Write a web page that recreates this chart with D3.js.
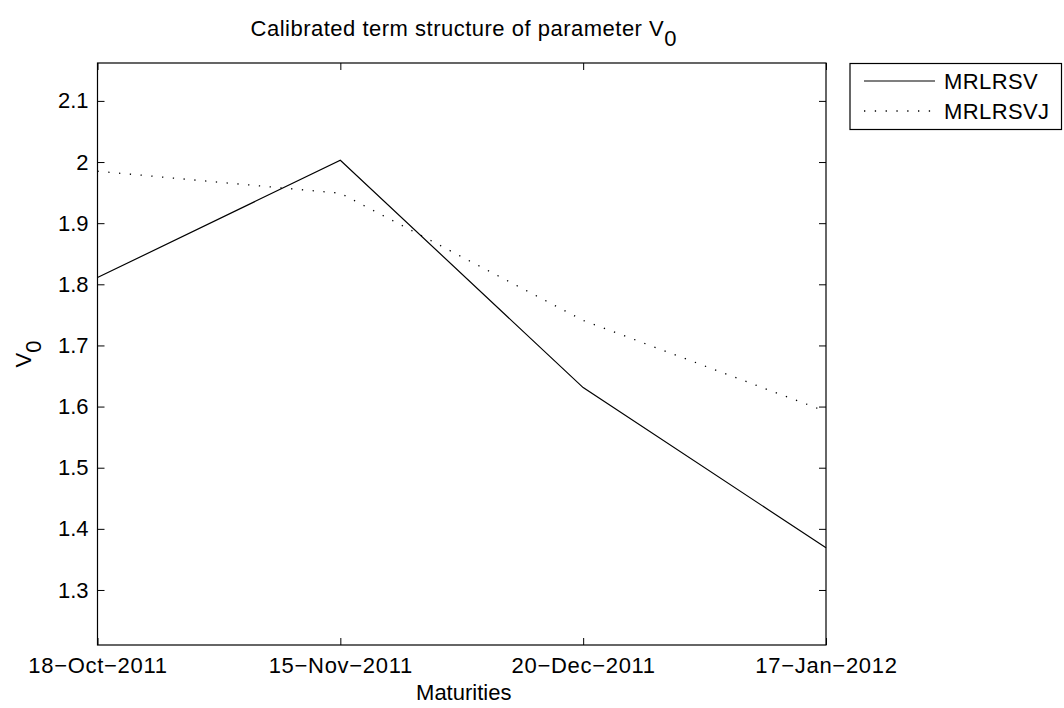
<!DOCTYPE html>
<html>
<head>
<meta charset="utf-8">
<script src="https://cdn.jsdelivr.net/npm/d3@7"></script>
<style>
  body { margin: 0; background: #fff; }
  text { font-family: "Liberation Sans", Arial, sans-serif; fill: #000; }
</style>
</head>
<body>
<div id="chart"></div>
<script>
// data
var maturities = ["18\u2212Oct\u22122011", "15\u2212Nov\u22122011", "20\u2212Dec\u22122011", "17\u2212Jan\u22122012"]
var mrlrsv = [1.811, 2.003, 1.631, 1.369]
var mrlrsvj = [1.985, 1.949, 1.741, 1.592]
var yTicks = [1.3, 1.4, 1.5, 1.6, 1.7, 1.8, 1.9, 2.0, 2.1]
var seriesNames = ["MRLRSV", "MRLRSVJ"]

var W = 1064, H = 708
var mLeft = 97.5, mRight = 826, mTop = 63, mBottom = 645
var fs = 22

var svg = d3.select("#chart").append("svg")
  .attr("width", W)
  .attr("height", H)

var x = d3.scalePoint()
  .domain(maturities)
  .range([mLeft, mRight])
  .padding(0)

var y = d3.scaleLinear()
  .domain([1.21, 2.162])
  .range([mBottom, mTop])

// axes, ticks inward, mirrored on top and right like matlab's box
var fmt = d3.format("~g")
var tickLen = 7

svg.append("g")
  .attr("transform", `translate(0,${mBottom})`)
  .call(d3.axisBottom(x).tickSize(-tickLen).tickPadding(12))
  .call(g => g.selectAll("text")
    .attr("font-size", fs)
    .attr("letter-spacing", 0.7)
    .attr("dy", "0.71em"))

svg.append("g")
  .attr("transform", `translate(0,${mTop})`)
  .call(d3.axisTop(x).tickSize(-tickLen).tickFormat(""))

svg.append("g")
  .attr("transform", `translate(${mLeft},0)`)
  .call(d3.axisLeft(y).tickValues(yTicks).tickFormat(fmt).tickSize(-tickLen).tickPadding(9))
  .call(g => g.selectAll("text").attr("font-size", fs))

svg.append("g")
  .attr("transform", `translate(${mRight},0)`)
  .call(d3.axisRight(y).tickValues(yTicks).tickFormat("").tickSize(-tickLen))

svg.selectAll(".domain").remove()
svg.selectAll(".tick line").attr("stroke", "#000")

svg.append("rect")
  .attr("x", mLeft)
  .attr("y", mTop)
  .attr("width", mRight - mLeft)
  .attr("height", mBottom - mTop)
  .attr("fill", "none")
  .attr("stroke", "#000")
  .attr("stroke-width", 1.2)

// lines
var line = d3.line()
  .x((d, i) => x(maturities[i]))
  .y(d => y(d))

svg.append("path")
  .datum(mrlrsv)
  .attr("d", line)
  .attr("fill", "none")
  .attr("stroke", "#000")
  .attr("stroke-width", 1.2)

svg.append("path")
  .datum(mrlrsvj)
  .attr("d", line)
  .attr("fill", "none")
  .attr("stroke", "#000")
  .attr("stroke-width", 1.3)
  .attr("stroke-dasharray", "1.3,9.5")

// title
var title = svg.append("text")
  .attr("x", (mLeft + mRight) / 2 + 2)
  .attr("y", 36)
  .attr("text-anchor", "middle")
  .attr("font-size", fs)
  .attr("letter-spacing", 0.5)
title.append("tspan").text("Calibrated term structure of parameter V")
title.append("tspan").attr("dy", 10).text("0")

// axis labels
svg.append("text")
  .attr("x", (mLeft + mRight) / 2 + 2)
  .attr("y", 700)
  .attr("text-anchor", "middle")
  .attr("font-size", fs)
  .text("Maturities")

var yl = svg.append("text")
  .attr("transform", `translate(31,${(mTop + mBottom) / 2}) rotate(-90)`)
  .attr("text-anchor", "middle")
  .attr("font-size", fs)
yl.append("tspan").text("V")
yl.append("tspan").attr("dy", 10).text("0")

// legend
var lg = svg.append("g")
lg.append("rect")
  .attr("x", 850)
  .attr("y", 63.5)
  .attr("width", 211.5)
  .attr("height", 66)
  .attr("fill", "#fff")
  .attr("stroke", "#000")
  .attr("stroke-width", 1.2)

seriesNames.forEach(function (name, i) {
  var ly = 81 + i * 30
  lg.append("line")
    .attr("x1", 864)
    .attr("x2", 935)
    .attr("y1", ly)
    .attr("y2", ly)
    .attr("stroke", "#000")
    .attr("stroke-width", i ? 1.3 : 1.2)
    .attr("stroke-dasharray", i ? "1.3,9.5" : null)
  lg.append("text")
    .attr("x", 944)
    .attr("y", ly)
    .attr("dy", "0.36em")
    .attr("font-size", fs)
    .attr("letter-spacing", 0.4)
    .text(name)
})
</script>
</body>
</html>
